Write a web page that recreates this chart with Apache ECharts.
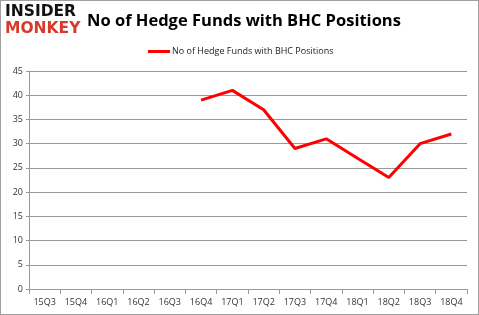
<!DOCTYPE html>
<html>
<head>
<meta charset="utf-8">
<script src="https://cdn.jsdelivr.net/npm/echarts@6/dist/echarts.min.js"></script>
<style>
html, body { margin: 0; padding: 0; background: #fff; }
#container { width: 477px; height: 313px; border: 1px solid #a0a0a0; }
</style>
</head>
<body>
<div id="container"></div>
<script>
var quarters = ['15Q3', '15Q4', '16Q1', '16Q2', '16Q3', '16Q4', '17Q1', '17Q2', '17Q3', '17Q4', '18Q1', '18Q2', '18Q3', '18Q4'];
var hedgeFunds = [null, null, null, null, null, 39, 41, 37, 29, 31, 27, 23, 30, 32];
var seriesName = 'No of Hedge Funds with BHC Positions';

var chart = echarts.init(document.getElementById('container'));

var option = {
    animation: false,
    title: {
        text: 'No of Hedge Funds with BHC Positions',
        left: 81,
        top: 7,
        textStyle: {
            fontFamily: 'Open Sans',
            fontWeight: 'bold',
            fontSize: 16.5,
            color: '#000'
        }
    },
    graphic: [{
        type: 'text',
        left: 4,
        top: 3,
        style: {
            text: 'INSIDER',
            font: '900 15.5px "DejaVu Sans"',
            fill: '#111'
        }
    }, {
        type: 'text',
        left: 4,
        top: 20,
        style: {
            text: 'MONKEY',
            font: '900 15.5px "DejaVu Sans"',
            fill: '#d8392b'
        }
    }],
    legend: {
        data: [seriesName],
        top: 41,
        left: 142,
        itemWidth: 22,
        itemHeight: 3,
        itemGap: 2,
        icon: 'rect',
        textStyle: {
            fontFamily: 'Open Sans',
            fontSize: 9,
            color: '#222',
            padding: [0, 0, 0, -3]
        }
    },
    grid: {
        left: 28,
        right: 11,
        top: 70,
        bottom: 25
    },
    xAxis: {
        type: 'category',
        data: quarters,
        boundaryGap: true,
        axisLine: { lineStyle: { color: '#999' } },
        axisTick: { show: true, lineStyle: { color: '#999' } },
        axisLabel: {
            fontFamily: 'Open Sans',
            fontSize: 9,
            color: '#333',
            interval: 0,
            margin: 9
        }
    },
    yAxis: {
        type: 'value',
        min: 0,
        max: 45,
        interval: 5,
        axisLine: { show: true, lineStyle: { color: '#999' } },
        axisTick: { show: true, length: 3, lineStyle: { color: '#999' } },
        splitLine: { lineStyle: { color: '#999' } },
        axisLabel: {
            fontFamily: 'Open Sans',
            fontSize: 9,
            color: '#333',
            margin: 6
        }
    },
    series: [{
        name: seriesName,
        type: 'line',
        data: hedgeFunds,
        showSymbol: false,
        connectNulls: false,
        itemStyle: { color: '#ff0000' },
        lineStyle: { color: '#ff0000', width: 3 }
    }]
};

chart.setOption(option);
</script>
</body>
</html>
